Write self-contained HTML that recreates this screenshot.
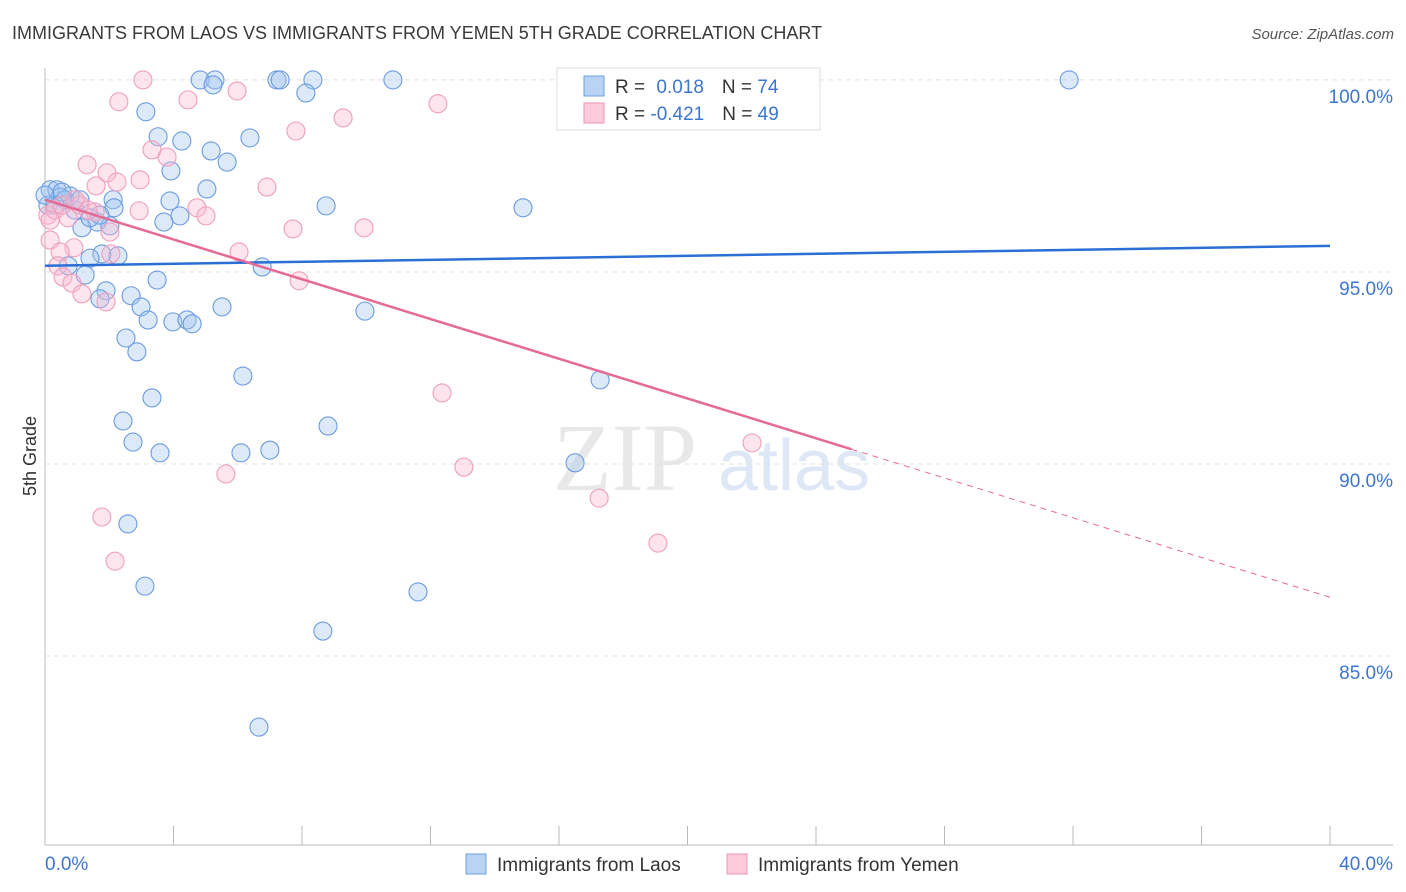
<!DOCTYPE html>
<html><head><meta charset="utf-8"><style>
body{margin:0;background:#fff;font-family:"Liberation Sans",sans-serif}
svg{display:block}
</style></head><body>
<svg id="c" width="1406" height="892">
<text x="12" y="39" font-size="18" fill="#3a3a3a">IMMIGRANTS FROM LAOS VS IMMIGRANTS FROM YEMEN 5TH GRADE CORRELATION CHART</text>
<text x="1394" y="39" font-size="15" fill="#555" text-anchor="end" font-style="italic">Source: ZipAtlas.com</text>
<text x="36" y="456" font-size="18" fill="#333" text-anchor="middle" transform="rotate(-90 36 456)">5th Grade</text>
<g><text x="553" y="490" font-size="96" fill="#e8e8e8" font-family="Liberation Serif,serif">ZIP</text><text x="718" y="490" font-size="72" fill="#dde7f6">atlas</text></g>
<g id="grid"></g><g id="pts"></g><g id="trend"></g>
<g>
<rect x="557" y="68" width="263" height="62" fill="#fff" stroke="#ddd"/>
<rect x="584" y="76" width="20" height="20" fill="#b9d3f5" stroke="#6d9de3"/>
<rect x="584" y="103" width="20" height="20" fill="#fccadb" stroke="#ec95b3"/>
<text x="615" y="93" font-size="19" fill="#333">R = <tspan fill="#3b76d2" dx="6">0.018</tspan><tspan dx="18" fill="#333">N = </tspan><tspan fill="#3b76d2">74</tspan></text>
<text x="615" y="120" font-size="19" fill="#333">R = <tspan fill="#3b76d2">-0.421</tspan><tspan dx="18" fill="#333">N = </tspan><tspan fill="#3b76d2">49</tspan></text>
</g>
<g>
<rect x="466" y="854" width="20" height="20" fill="#b9d3f5" stroke="#6d9de3"/>
<text x="497" y="871" font-size="19" fill="#333">Immigrants from Laos</text>
<rect x="727" y="854" width="20" height="20" fill="#fccadb" stroke="#ec95b3"/>
<text x="758" y="871" font-size="19" fill="#333">Immigrants from Yemen</text>
</g>
<text x="45" y="870" font-size="19" fill="#3b76d2">0.0%</text>
<text x="1393" y="870" font-size="19" fill="#3b76d2" text-anchor="end">40.0%</text>
</svg>
<script>
const blueX=[4.83,5.29,5.23,7.22,7.32,8.34,10.83,31.88,8.12,3.14,3.52,4.26,6.38,5.17,5.67,3.92,5.04,3.89,2.12,2.15,8.75,14.88,4.20,3.70,1.62,2.02,1.15,0.16,0.37,0.78,0.47,0.09,0.93,1.40,2.27,1.77,1.40,6.76,0.72,1.25,3.49,2.68,1.90,1.71,2.99,5.51,3.21,3.98,4.42,4.58,9.96,2.52,2.86,6.16,17.28,3.33,2.43,2.74,8.81,3.58,6.10,7.00,16.50,2.58,3.11,11.61,8.65,6.66,0.62,0.31,1.71,1.09,0.0,0.53];
const blueY=[100,100,99.87,100,100,100,100,100,99.66,99.17,98.52,98.41,98.49,98.15,97.86,97.63,97.16,96.85,96.88,96.67,96.72,96.67,96.46,96.30,96.30,96.20,96.15,97.14,97.14,96.98,96.95,96.74,96.61,96.41,95.42,95.47,95.36,95.13,95.16,94.92,94.79,94.38,94.51,94.30,94.09,94.09,93.75,93.70,93.75,93.65,93.98,93.28,92.92,92.29,92.19,91.72,91.12,90.57,90.99,90.29,90.29,90.36,90.03,88.44,86.82,86.67,85.65,83.15,96.88,96.74,96.48,96.88,97.0,97.08];
const pinkX=[3.05,2.30,4.45,5.98,12.23,9.28,7.81,3.33,3.80,1.31,1.93,1.59,2.24,2.96,6.91,2.93,4.73,5.01,2.02,7.72,9.93,0.16,0.90,0.47,6.04,2.05,0.40,0.56,0.84,1.15,1.90,7.91,0.09,0.31,0.72,1.09,1.56,12.36,13.04,5.63,17.25,1.77,19.08,22.01,2.18,0.53,0.93,1.34,0.16];
const pinkY=[100,99.43,99.48,99.71,99.38,99.01,98.67,98.18,97.99,97.79,97.58,97.24,97.34,97.40,97.21,96.59,96.67,96.46,96.04,96.12,96.15,95.83,95.63,95.52,95.52,95.47,95.16,94.87,94.71,94.43,94.22,94.77,96.48,96.61,96.41,96.74,96.56,91.85,89.92,89.74,89.11,88.62,87.94,90.55,87.47,96.74,96.88,96.61,96.35];
const yTicks=[100,95,90,85];
const yTickLabels=["100.0%","95.0%","90.0%","85.0%"];
const xTicks=[0,4,8,12,16,20,24,28,32,36,40];
const blueTrend=[95.16,95.68];
const pinkTrend=[96.88,86.53];
const pinkSolidEnd=25.1;
const NS="http://www.w3.org/2000/svg";
const X0=45,X1=1330,YT=68,YB=845,DMIN=80.08,DMAX=100.31;
const sx=v=>X0+(v/40)*(X1-X0);
const sy=v=>YB-(v-DMIN)/(DMAX-DMIN)*(YB-YT);
function mk(t,a,p){const e=document.createElementNS(NS,t);for(const k in a)e.setAttribute(k,a[k]);p.appendChild(e);return e;}
const grid=document.getElementById('grid');
const ax=mk('line',{x1:X0,y1:YT,x2:X0,y2:YB,stroke:'#bbb'},grid);


const bx=mk('line',{x1:X0,y1:YB,x2:1393,y2:YB,stroke:'#bbb'},grid);


yTicks.forEach((t,i)=>{
 const g=mk('line',{x1:X0,y1:sy(t),x2:1393,y2:sy(t),stroke:'#e0e0e0','stroke-dasharray':'5,4'},grid);
 
 
 const l=mk('text',{x:1393,y:sy(t)+23,'font-size':19,fill:'#3b76d2','text-anchor':'end'},grid);
 l.textContent=yTickLabels[i];
 
 
});
xTicks.forEach(t=>{
 const k=mk('line',{x1:sx(t),y1:826,x2:sx(t),y2:YB,stroke:'#bbb'},grid);
 
 
});
const pts=document.getElementById('pts');
blueX.forEach((x,i)=>{
 const c=mk('circle',{cx:sx(x),cy:sy(blueY[i]),r:9,fill:'rgba(160,196,240,0.38)',stroke:'#6b9be0','stroke-width':1.1},pts);
 
 
});
pinkX.forEach((x,i)=>{
 const c=mk('circle',{cx:sx(x),cy:sy(pinkY[i]),r:9,fill:'rgba(250,185,208,0.38)',stroke:'#ee9fbb','stroke-width':1.1},pts);
 
 
});
const tr=document.getElementById('trend');
const bl=mk('line',{x1:sx(0),y1:sy(blueTrend[0]),x2:sx(40),y2:sy(blueTrend[1]),stroke:'#2a6fd6','stroke-width':2.5},tr);


const pv=x=>pinkTrend[0]+(pinkTrend[1]-pinkTrend[0])*x/40;
const pl=mk('line',{x1:sx(0),y1:sy(pv(0)),x2:sx(pinkSolidEnd),y2:sy(pv(pinkSolidEnd)),stroke:'#e56b95','stroke-width':2.5},tr);


const pd=mk('line',{x1:sx(pinkSolidEnd),y1:sy(pv(pinkSolidEnd)),x2:sx(40),y2:sy(pv(40)),stroke:'#e56b95','stroke-width':1,'stroke-dasharray':'6,5'},tr);


</script>
</body></html>
